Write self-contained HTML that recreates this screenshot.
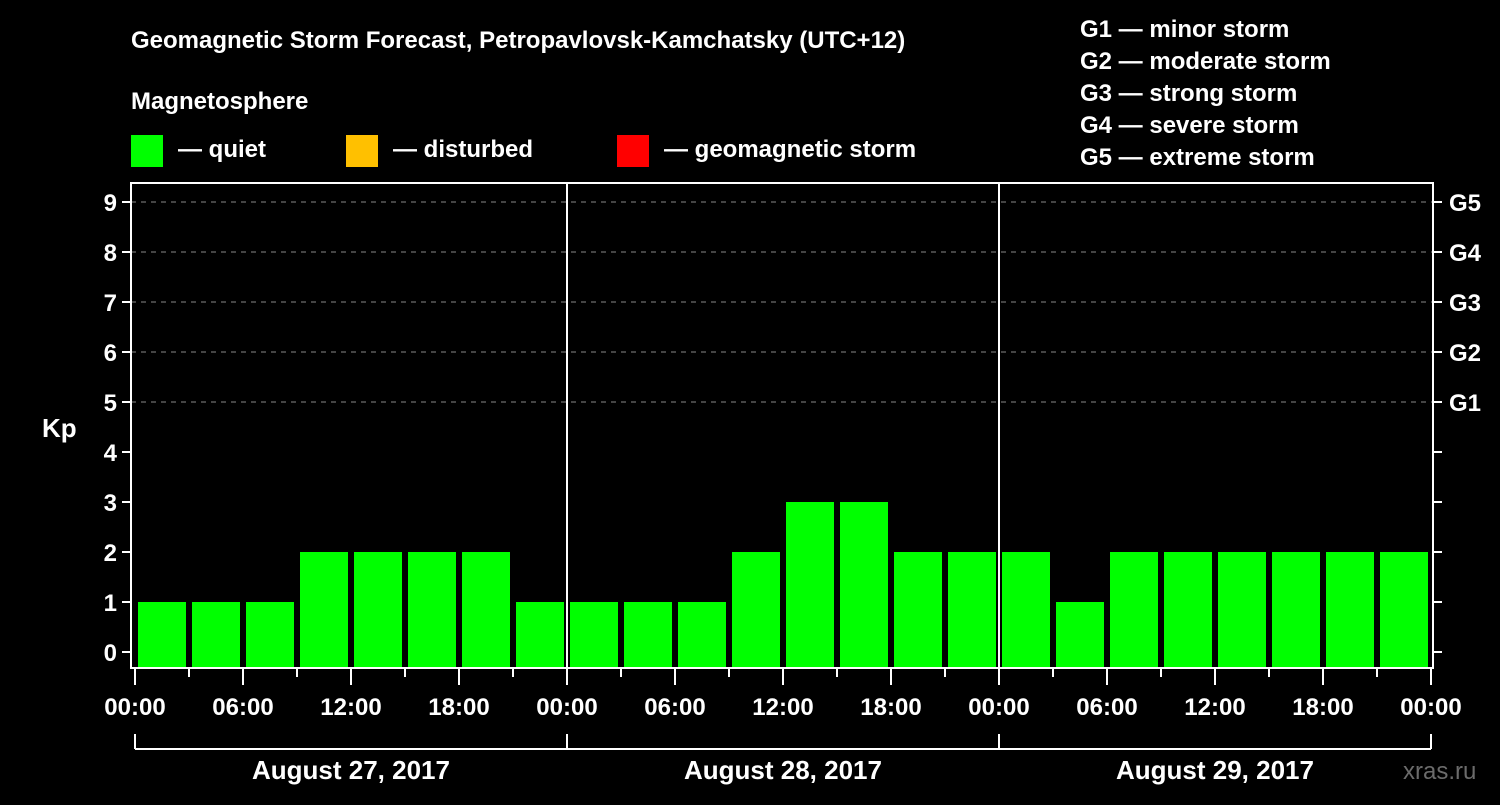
<!DOCTYPE html>
<html><head><meta charset="utf-8"><style>
body{margin:0;background:#000;width:1500px;height:800px;overflow:hidden}
svg text{font-family:"Liberation Sans",Arial,sans-serif;font-weight:bold;fill:#fff}
</style></head><body>
<svg id="c" width="1500" height="800">
<rect width="1500" height="800" fill="#000"/>
<text x="131" y="48" font-size="24">Geomagnetic Storm Forecast, Petropavlovsk-Kamchatsky (UTC+12)</text>
<text x="131" y="109" font-size="24">Magnetosphere</text>
<g><rect x="131" y="135" width="32" height="32" fill="#00ff00"/><text x="178" y="157" font-size="24">— quiet</text></g>
<g><rect x="346" y="135" width="32" height="32" fill="#ffc000"/><text x="393" y="157" font-size="24">— disturbed</text></g>
<g><rect x="617" y="135" width="32" height="32" fill="#ff0000"/><text x="664" y="157" font-size="24">— geomagnetic storm</text></g>
<g font-size="24">
<text x="1080" y="37">G1 — minor storm</text>
<text x="1080" y="69">G2 — moderate storm</text>
<text x="1080" y="101">G3 — strong storm</text>
<text x="1080" y="133">G4 — severe storm</text>
<text x="1080" y="165">G5 — extreme storm</text>
</g>
<text x="42" y="437" font-size="26">Kp</text>
<text x="1403" y="779" font-size="24" fill="#666" style="fill:#6b6b6b;font-weight:normal">xras.ru</text>
<g id="grid"></g><g id="bars"></g><g id="axes"></g>
</svg>
<script>
const kpValues=[1,1,1,2,2,2,2,1, 1,1,1,2,3,3,2,2, 2,1,2,2,2,2,2,2];
const dayLabels=["August 27, 2017","August 28, 2017","August 29, 2017"];
const yTicks=[0,1,2,3,4,5,6,7,8,9];
const gLabels=["G1","G2","G3","G4","G5"];
const timeLabels=["00:00","06:00","12:00","18:00"];
const NS="http://www.w3.org/2000/svg";
const L=131,R=1433,T=183,B=668,X0=135,SLOT=54;
const y=v=>652-50*v, x=i=>X0+SLOT*i;
function mk(t,a,p){const e=document.createElementNS(NS,t);for(const k in a)e.setAttribute(k,a[k]);document.getElementById(p).appendChild(e);return e;}
yTicks.forEach(v=>{
 if(v>=5){const g=mk('line',{x1:L,x2:R,y1:y(v),y2:y(v),stroke:'#888','stroke-dasharray':'5,5'},'grid');
 
 }
 mk('line',{x1:L-9,x2:L,y1:y(v),y2:y(v),stroke:'#fff','stroke-width':2},'axes');
 mk('line',{x1:R,x2:R+9,y1:y(v),y2:y(v),stroke:'#fff','stroke-width':2},'axes');
 const t=mk('text',{x:L-14,y:y(v)+9,'font-size':24,'text-anchor':'end'},'axes');t.textContent=v;
 
 
});
gLabels.forEach((g,i)=>{const t=mk('text',{x:1449,y:y(5+i)+9,'font-size':24},'axes');t.textContent=g;
 
 });
kpValues.forEach((v,i)=>{
 const col=v>=5?'#ff0000':(v>=4?'#ffc000':'#00ff00');
 const r=mk('rect',{x:x(i)+3,y:y(v),width:48,height:B-y(v),fill:col},'bars');
 
 
});
mk('rect',{x:L,y:T,width:R-L,height:B-T,fill:'none',stroke:'#fff','stroke-width':2},'axes');
[1,2].forEach(d=>mk('line',{x1:x(d*8),x2:x(d*8),y1:T,y2:B,stroke:'#fff','stroke-width':2},'axes'));
for(let i=0;i<=24;i++){
 const maj=i%2==0;
 mk('line',{x1:x(i),x2:x(i),y1:B,y2:B+(maj?17:9),stroke:'#fff','stroke-width':2},'axes');
 if(maj){const t=mk('text',{x:x(i),y:715,'font-size':24,'text-anchor':'middle'},'axes');t.textContent=timeLabels[(i/2)%4];
 
 }
}
mk('line',{x1:x(0),x2:x(24),y1:749,y2:749,stroke:'#fff','stroke-width':2},'axes');
for(let d=0;d<=3;d++)mk('line',{x1:x(d*8),x2:x(d*8),y1:734,y2:749,stroke:'#fff','stroke-width':2},'axes');
dayLabels.forEach((s,d)=>{const t=mk('text',{x:x(d*8+4),y:779,'font-size':26,'text-anchor':'middle'},'axes');t.textContent=s;
 
 });
</script>
</body></html>
